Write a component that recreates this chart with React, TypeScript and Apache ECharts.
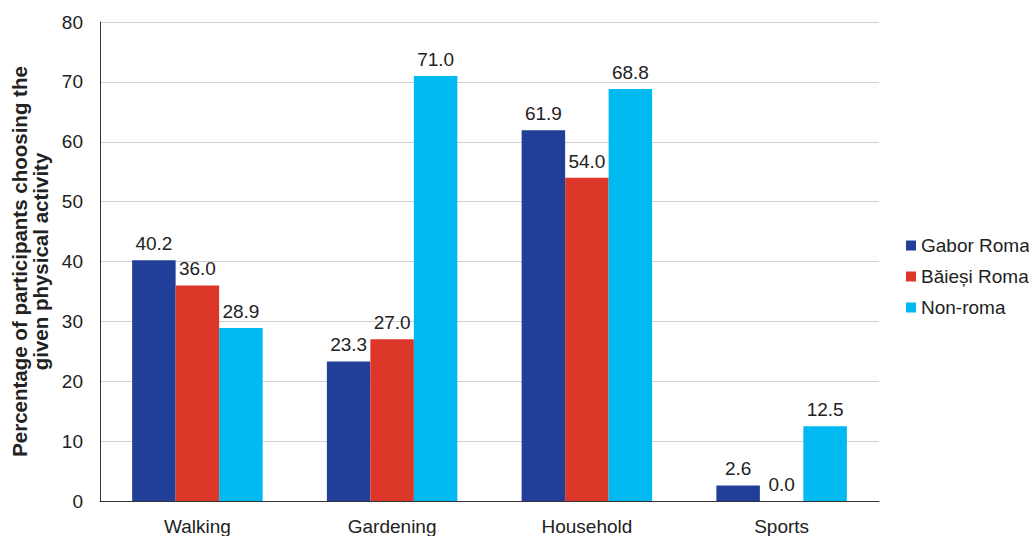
import React, { useEffect, useRef } from "react";
import * as echarts from "echarts";

const categories = ["Walking", "Gardening", "Household", "Sports"];
const gaborRoma = [40.2, 23.3, 61.9, 2.6];
const baiesiRoma = [36.0, 27.0, 54.0, 0.0];
const nonRoma = [28.9, 71.0, 68.8, 12.5];
const seriesNames = ["Gabor Roma", "Băieși Roma", "Non-roma"];
const colors = ["#213F99", "#DD3729", "#00B9F1"];

const FONT = "Liberation Sans, Arial, sans-serif";

export default function App() {
  const ref = useRef<HTMLDivElement>(null);
  useEffect(() => {
    if (!ref.current) return;
    const chart = echarts.init(ref.current, undefined, { renderer: "svg" });
    const data = [gaborRoma, baiesiRoma, nonRoma];
    chart.setOption({
      animation: false,
      textStyle: { fontFamily: FONT },
      grid: { left: 100, right: 150, top: 22, bottom: 33, containLabel: false },
      legend: {
        orient: "vertical",
        left: 901,
        top: 231,
        itemWidth: 10,
        itemHeight: 10,
        itemGap: 12,
        icon: "rect",
        textStyle: { fontSize: 19, color: "#222", fontFamily: FONT, lineHeight: 19 },
        data: seriesNames,
      },
      xAxis: {
        type: "category",
        data: categories,
        axisLine: { lineStyle: { color: "#333", width: 1 } },
        axisTick: { show: false },
        axisLabel: { fontSize: 19, color: "#222", margin: 16, fontFamily: FONT },
      },
      yAxis: {
        type: "value",
        min: 0,
        max: 80,
        interval: 10,
        name: "Percentage of participants choosing the\ngiven physical activity",
        nameLocation: "middle",
        nameRotate: 90,
        nameGap: 44,
        nameTextStyle: { fontSize: 20.5, fontWeight: "bold", color: "#222", lineHeight: 21, fontFamily: FONT },
        axisLine: { show: true, lineStyle: { color: "#333", width: 1 } },
        axisTick: { show: false },
        axisLabel: { fontSize: 19, color: "#222", margin: 17, fontFamily: FONT },
        splitLine: { lineStyle: { color: "#d0d0d0", width: 1 } },
      },
      series: seriesNames.map((name, i) => ({
        name,
        type: "bar",
        data: data[i],
        barGap: "0%",
        barCategoryGap: "33%",
        itemStyle: { color: colors[i] },
        label: {
          show: true,
          position: "top",
          distance: 7,
          fontSize: 19,
          color: "#222",
          fontFamily: FONT,
          formatter: (p: any) => Number(p.value).toFixed(1),
        },
      })),
    });
    return () => chart.dispose();
  }, []);
  return <div ref={ref} style={{ width: 1029, height: 536, position: "absolute", left: 0, top: 0 }} />;
}
